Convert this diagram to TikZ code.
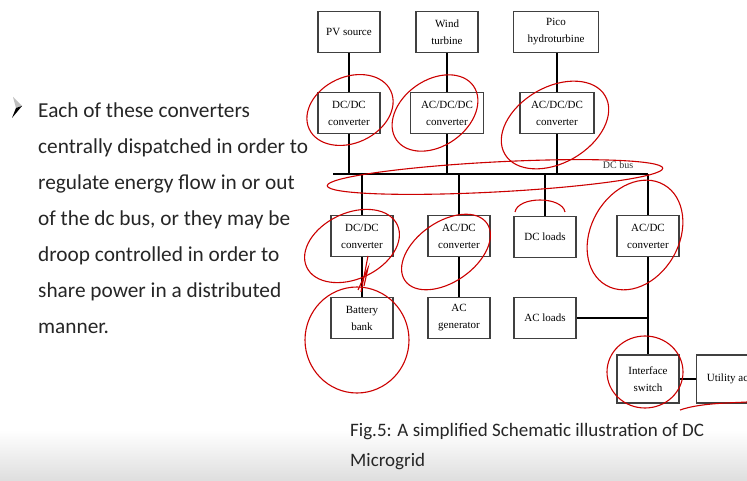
\documentclass[tikz,border=0pt]{standalone}
\usepackage{fontspec}
\setmainfont{Liberation Serif}
\newfontfamily\slidefont{Carlito}
\usepackage{tikz}

\begin{document}
\begin{tikzpicture}[
		x=1pt, y=-1pt,
		box/.style={draw=black!75, line width=1.1pt, minimum width=62pt, minimum height=41pt,
			align=center, font=\fontsize{11}{17}\selectfont, inner sep=1pt},
		link/.style={draw=black, line width=2pt},
		note/.style={draw=red!80!black, line width=1.1pt}
	]
	\clip (0,0) rectangle (747,481);
	\fill[white] (0,0) rectangle (747,481);
	\shade[top color=white, bottom color=black!13] (0,430) rectangle (747,481);

	% sources
	\node[box] (pv) at (349,32) {PV source};
	\node[box] (wind) at (447,32) {Wind\\turbine};
	\node[box, minimum width=85pt] (hydro) at (556,32) {Pico\\hydroturbine};
	% source converters
	\node[box] (c1) at (349,113) {DC/DC\\converter};
	\node[box, minimum width=73pt] (c2) at (447,113) {AC/DC/DC\\converter};
	\node[box, minimum width=74pt] (c3) at (557,113) {AC/DC/DC\\converter};
	% dc bus
	\coordinate (busL) at (333,174);
	\coordinate (busR) at (648,174);
	\node[font=\fontsize{10}{11}\selectfont, text=black!80] (buslabel) at (618,165) {DC bus};
	% bus side
	\node[box] (c4) at (362,236) {DC/DC\\converter};
	\node[box] (c5) at (459,236) {AC/DC\\converter};
	\node[box] (dcl) at (545,237) {DC loads};
	\node[box] (c6) at (648,236) {AC/DC\\converter};
	\node[box] (bat) at (362,318) {Battery\\bank};
	\node[box] (gen) at (459,318) {AC\\generator};
	\node[box] (acl) at (545,318) {AC loads};
	\node[box, minimum height=48pt] (sw) at (648,379) {Interface\\switch};
	\node[box, minimum height=48pt, anchor=west] (util) at (696,379) {Utility ac};

	\draw[link] (busL) -- (busR);
	\draw[link] (pv) -- (c1);
	\draw[link] (wind) -- (c2);
	\draw[link] (hydro.south -| c3) -- (c3);
	\draw[link] (c1) -- (c1 |- busL);
	\draw[link] (c2) -- (c2 |- busL);
	\draw[link] (c3) -- (c3 |- busL);
	\draw[link] (c4 |- busL) -- (c4);
	\draw[link] (c5 |- busL) -- (c5);
	\draw[link] (dcl |- busL) -- (dcl);
	\draw[link] (busR) -- (c6);
	\draw[link] (c4) -- (bat);
	\draw[link] (c5) -- (gen);
	\draw[link] (c6) -- (sw);
	\draw[link] (acl.east) -- (acl -| c6);
	\draw[link] (sw) -- (util);

	% pen marks
	\draw[note, rotate around={25:(350,110)}] (350,110) ellipse (45 and 33);
	\draw[note, rotate around={35:(435,113)}] (435,113) ellipse (47 and 33);
	\draw[note, rotate around={30:(555,125)}] (555,125) ellipse (58 and 38);
	\draw[note, rotate around={3:(495,177)}] (495,177) ellipse (168 and 15);
	\draw[note, rotate around={25:(352,246)}] (352,246) ellipse (50 and 33);
	\draw[note, rotate around={35:(446,252)}] (446,252) ellipse (50 and 30);
	\draw[note] (515,212) .. controls (518,196) and (562,196) .. (565,212);
	\draw[note, rotate around={60:(635,235)}] (635,235) ellipse (58 and 44);
	\draw[note] (357,340) ellipse (52 and 53);
	\draw[note] (645,372) ellipse (38 and 36);
	\draw[note] (368,256) -- (361,292);
	\draw[note] (358,290) -- (368,268) -- (364,286);
	\draw[note] (680,410) .. controls (700,403) and (730,403) .. (747,402);

	% slide text
	\fill[black!25] (13,97) -- (22,106) -- (16,108) -- cycle;
	\fill[black] (12,118) -- (22,106) -- (16,108) -- cycle;
	\node[anchor=north west, align=left, inner sep=0pt, text=black!85,
		font=\slidefont\fontsize{21.3}{36}\selectfont] (bullet) at (38,103)
		{Each of these converters\\centrally dispatched in order to\\regulate energy flow in or out\\of the dc bus, or they may be\\droop controlled in order to\\share power in a distributed\\manner.};
	\node[anchor=north west, align=left, inner sep=0pt, text=black!85,
		font=\slidefont\fontsize{19}{30}\selectfont] (caption) at (350,423)
		{Fig.5: A simplified Schematic illustration of DC\\Microgrid};
\end{tikzpicture}
\end{document}
